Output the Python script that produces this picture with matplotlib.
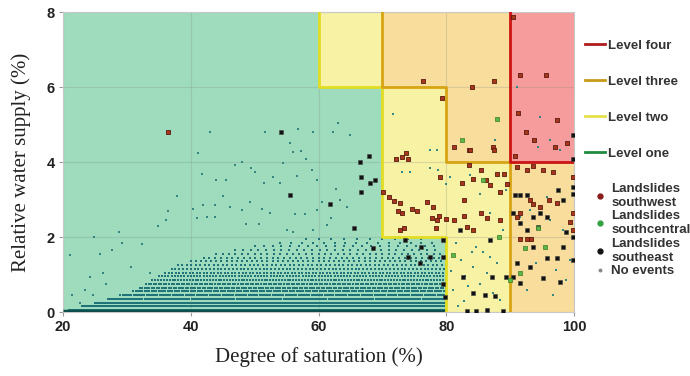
import numpy as np
import matplotlib
matplotlib.use("Agg")
import matplotlib.pyplot as plt
from matplotlib.lines import Line2D

# ---------------- data ----------------
x_ticks = [20, 40, 60, 80, 100]
y_ticks = [0, 2, 4, 6, 8]

# threshold boundaries (degree of saturation, relative water supply)
lvl2_x = [60, 60, 70, 70, 80, 80]
lvl2_y = [8, 6, 6, 2, 2, 0]
lvl3_x = [70, 70, 80, 80, 90, 90]
lvl3_y = [8, 6, 6, 4, 4, 0]
lvl4_x = [90, 90, 100]
lvl4_y = [8, 4, 4]
lvl1_x = [20, 80]
lvl1_y = [0.03, 0.03]

# landslides southwest
sw_x = [76.4, 84.0, 87.4, 79.4, 81.2, 83.6, 87.3, 91.6, 95.6, 91.2, 92.5, 93.7, 97.4, 97.0, 98.9, 90.7,
        72.2, 73.0, 73.7, 74.0, 70.1, 71.1, 71.8, 72.7, 72.4, 73.1, 73.3, 72.7, 74.6, 75.4, 76.9, 77.9,
        77.7, 78.5, 78.9, 78.4, 80.0, 81.2, 82.7, 83.3, 84.2, 82.4, 84.2, 85.5, 86.2, 86.9, 87.9, 88.4,
        89.0, 89.5, 83.6, 79.0, 82.7, 85.5, 86.3, 88.4, 91.0, 92.6, 93.6, 95.2, 96.7, 93.1, 93.6, 94.7,
        96.0, 97.3, 99.9, 99.8, 99.3, 99.9, 91.5, 92.6, 93.3, 91.0, 91.5, 90.5, 36.5, 83.7, 87.4]
sw_y = [6.17, 5.99, 6.17, 5.70, 4.41, 4.32, 4.41, 6.32, 6.32, 5.30, 4.81, 4.59, 5.12, 4.41, 4.50, 4.16,
        4.07, 4.14, 4.25, 4.07, 3.21, 3.08, 2.97, 2.92, 2.70, 2.63, 2.25, 2.19, 2.74, 2.70, 2.94, 2.79,
        2.52, 2.45, 2.56, 2.23, 2.47, 2.45, 2.56, 2.28, 2.20, 3.43, 3.56, 3.79, 3.52, 3.39, 3.68, 3.21,
        3.68, 3.41, 3.92, 3.61, 2.99, 2.63, 2.50, 2.45, 3.88, 3.79, 3.89, 3.79, 3.74, 2.99, 2.88, 2.81,
        2.99, 2.90, 3.61, 2.63, 2.41, 2.19, 1.96, 1.94, 1.94, 2.54, 2.63, 7.86, 4.81, 4.32, 4.32]

# landslides southcentral
sc_x = [87.9, 82.4, 85.7, 88.3, 94.3, 92.3, 95.4, 81.1, 91.5, 89.9]
sc_y = [5.14, 4.59, 3.52, 1.99, 2.23, 1.70, 1.74, 1.52, 1.03, 0.85]

# landslides southeast
se_x = [54.2, 55.6, 61.8, 66.5, 67.9, 66.6, 68.0, 68.9, 66.6, 65.5, 68.5,
        73.5, 74.0, 76.0, 75.9, 77.4, 79.5, 79.5, 79.8, 79.5, 82.6, 84.2, 86.0, 87.6, 83.2, 84.7,
        86.3, 88.9, 82.1, 86.8, 87.1, 89.4, 90.7, 91.5, 92.6, 90.5, 91.5, 92.6, 93.6, 94.4, 94.6,
        95.7, 97.5, 98.3, 98.8, 99.9, 99.9, 98.3, 95.7, 97.3, 93.6, 93.1, 91.0, 90.5, 91.5, 95.2,
        97.8, 99.9, 99.9, 99.9, 99.9]
se_y = [4.81, 3.12, 2.87, 4.01, 4.17, 3.61, 3.45, 3.52, 3.19, 2.23, 1.72,
        1.92, 1.48, 1.74, 1.30, 1.48, 1.92, 1.48, 0.41, 0.76, 0.94, 0.50, 0.45, 0.43, 0.03, 0.03,
        0.05, 0.03, 2.19, 1.92, 0.94, 0.94, 3.12, 3.12, 3.12, 2.63, 2.38, 2.19, 2.54, 2.28, 2.63,
        2.54, 3.25, 2.99, 2.14, 3.16, 2.01, 1.74, 1.43, 1.43, 1.74, 1.21, 1.30, 0.94, 0.78, 0.90,
        0.81, 1.39, 3.34, 4.72, 4.09]

# no events: scattered points
ne_x = [43.0, 51.6, 56.8, 59.2, 63.1, 62.3, 64.9, 41.2, 48.0, 46.9, 49.5, 50.0, 41.7, 44.0, 45.5, 51.4,
        52.9, 53.9, 54.5, 55.5, 56.0, 57.3, 58.1, 58.9, 59.7, 56.7, 37.8, 45.1, 40.4, 41.9, 43.8, 46.1,
        48.0, 49.2, 51.1, 52.4, 56.3, 57.9, 59.7, 60.5, 62.7, 63.3, 64.4, 34.8, 36.2, 36.5, 28.8, 24.9,
        21.1, 25.8, 27.6, 32.3, 29.2, 40.9, 42.5, 43.8, 48.7, 50.7, 55.0, 56.0, 59.2, 61.3, 62.0, 24.3,
        23.4, 21.4, 26.3, 30.7, 33.6, 26.7, 24.7, 22.7,
        71.6, 77.4, 78.5, 77.5, 73.0, 74.3, 78.7, 80.6, 83.7, 80.0,
        85.2, 86.8, 88.9, 84.7, 85.8, 86.8, 87.9, 84.2, 86.3, 85.3, 87.3, 88.4, 91.5, 93.1, 96.2, 94.1,
        97.2, 99.3, 92.6, 96.7, 98.8, 89.4, 91.0, 95.7, 98.3,
        91.0, 94.6, 96.2, 94.4, 87.6, 97.8, 81.5, 82.3, 83.0, 81.0, 82.8, 84.0, 80.7, 81.8, 83.4]
ne_y = [4.81, 4.81, 4.87, 4.81, 5.03, 4.81, 4.72, 4.23, 4.01, 3.92, 3.83, 3.74, 3.68, 3.52, 3.52, 3.43,
        3.59, 3.45, 3.98, 4.50, 4.28, 4.30, 4.07, 3.79, 3.52, 3.63, 3.09, 3.09, 2.76, 2.85, 2.85, 2.81,
        2.72, 2.94, 2.76, 2.63, 2.61, 2.61, 2.72, 2.94, 3.27, 2.99, 2.81, 2.29, 2.45, 2.70, 2.14, 1.99,
        1.52, 1.56, 1.65, 1.81, 1.83, 2.52, 2.54, 2.54, 2.36, 2.36, 2.20, 2.14, 2.19, 2.32, 2.50, 0.94,
        0.60, 0.45, 1.03, 1.21, 1.03, 0.76, 0.45, 0.23,
        5.28, 4.32, 4.32, 3.83, 3.74, 3.74, 3.79, 3.61, 3.65, 3.41,
        3.16, 2.63, 2.19, 1.74, 1.61, 1.48, 1.30, 1.21, 1.03, 0.76, 0.50, 0.32, 2.54, 2.72, 2.45, 1.30,
        1.12, 1.39, 0.59, 0.45, 0.85, 3.25, 3.12, 3.08, 2.19,
        6.01, 5.21, 4.59, 4.39, 4.59, 4.32, 1.85, 1.40, 0.95, 0.60, 0.30, 1.60, 1.10, 0.15, 0.70]

# no events: dense cloud, described row by row (row level, x extent, point spacing)
dense_y = [0.05, 0.15, 0.25, 0.35, 0.45, 0.55, 0.65, 0.75, 0.85, 0.95, 1.05, 1.15, 1.25, 1.35,
           1.45, 1.55, 1.65, 1.75, 1.85, 1.95]
dense_xmin = [21, 23, 25, 27, 29, 31, 32, 33, 34, 35, 36, 37, 38, 40, 42, 44, 47, 50, 54, 58]
dense_xmax = [80, 80, 80, 80, 80, 80, 80, 80, 80, 80, 80, 80, 80, 80, 79.5, 79.5, 79, 79, 78, 77]
dense_step = [0.3, 0.3, 0.3, 0.32, 0.34, 0.36, 0.38, 0.4, 0.45, 0.5, 0.55, 0.6, 0.7, 0.8,
              0.9, 1.0, 1.2, 1.4, 1.7, 2.0]

# ---------------- plot ----------------
fig = plt.figure(figsize=(6.9, 3.76), dpi=100)
ax = fig.add_axes([0.0913, 0.170, 0.7407, 0.798])
ax.set_xlim(20, 100)
ax.set_ylim(0, 8)

c_green = '#9edcbd'
c_yellow = '#f7f2a4'
c_orange = '#f9dd9d'
c_red = '#f79c9c'

gx = [20, 20] + lvl2_x
gy = [0, 8] + lvl2_y
ax.fill(gx, gy, color=c_green, zorder=0, lw=0)
yx = lvl2_x + lvl3_x[::-1]
yy = lvl2_y + lvl3_y[::-1]
ax.fill(yx, yy, color=c_yellow, zorder=0, lw=0)
ox = lvl3_x + [100, 100] + lvl4_x[::-1]
oy = lvl3_y + [0, 4] + lvl4_y[::-1]
ax.fill(ox, oy, color=c_orange, zorder=0, lw=0)
rx = lvl4_x + [100]
ry = lvl4_y + [8]
ax.fill(rx, ry, color=c_red, zorder=0, lw=0)

ax.set_xticks(x_ticks)
ax.set_yticks(y_ticks)
ax.grid(True, color='#7a8a80', alpha=0.25, lw=0.8, zorder=1)

# dense cloud
dxs, dys = [], []
for yv, x0, x1, st in zip(dense_y, dense_xmin, dense_xmax, dense_step):
    xs = np.arange(x0, x1, st)
    dxs.append(xs)
    dys.append(np.full(xs.shape, yv))
dxs = np.concatenate(dxs)
dys = np.concatenate(dys)
ax.scatter(dxs, dys, s=4.0, marker='s', color='#1f7379', lw=0, zorder=2)
ax.scatter(ne_x, ne_y, s=3.5, marker='s', color='#35867f', lw=0, zorder=2)

# boundary lines
ax.plot(lvl1_x, lvl1_y, color='#0e4f4c', lw=2.5, zorder=3, solid_capstyle='butt')
ax.plot(lvl2_x, lvl2_y, color='#e2dc22', lw=2, zorder=3)
ax.plot(lvl3_x, lvl3_y, color='#d6a414', lw=2, zorder=3)
ax.plot(lvl4_x, lvl4_y, color='#cc1414', lw=2, zorder=3)

# landslides
ax.scatter(se_x, se_y, s=11, marker='s', color='#111111', edgecolor='#444444', lw=0.4, zorder=4)
ax.scatter(sw_x, sw_y, s=10, marker='s', color='#a8361a', edgecolor='#5a1a10', lw=0.6, zorder=4)
ax.scatter(sc_x, sc_y, s=10, marker='s', color='#5cb844', edgecolor='#3a7a2a', lw=0.5, zorder=4)

for s in ax.spines.values():
    s.set_color('#c8c8c8')
    s.set_linewidth(0.8)
ax.tick_params(length=3, color='#999999', labelsize=10.5, pad=3)
for lab in ax.get_xticklabels() + ax.get_yticklabels():
    lab.set_fontweight('bold')
    lab.set_color('#222222')
    lab.set_family('Liberation Sans')

ax.set_xlabel('Degree of saturation (%)', family='Liberation Serif', fontsize=15, color='#222222', labelpad=9)
ax.set_ylabel('Relative water supply (%)', family='Liberation Serif', fontsize=15, color='#222222', labelpad=11)

prop = {'family': 'Liberation Sans', 'weight': 'bold', 'size': 9.5}
line_handles = [
    Line2D([], [], color='#b01c1c', lw=2),
    Line2D([], [], color='#c89a18', lw=2),
    Line2D([], [], color='#e6e04a', lw=2),
    Line2D([], [], color='#1e8a40', lw=2),
]
line_labels = ['Level four', 'Level three', 'Level two', 'Level one']
leg1 = fig.legend(line_handles, line_labels, loc='upper left', bbox_to_anchor=(0.848, 0.895),
                  frameon=False, handlelength=1.5, handletextpad=0.2, labelspacing=1.8,
                  borderpad=0, borderaxespad=0, prop=prop)
mark_handles = [
    Line2D([], [], color='#8a1a1a', marker='o', ms=3.5, lw=0),
    Line2D([], [], color='#33a040', marker='o', ms=3.5, lw=0),
    Line2D([], [], color='#111111', marker='o', ms=3.5, lw=0),
    Line2D([], [], color='#888888', marker='o', ms=1.8, lw=0),
]
mark_labels = ['Landslides\nsouthwest', 'Landslides\nsouthcentral', 'Landslides\nsoutheast', 'No events']
leg2 = fig.legend(mark_handles, mark_labels, loc='upper left', bbox_to_anchor=(0.862, 0.513),
                  frameon=False, handlelength=0.8, handletextpad=0.45, labelspacing=0.12,
                  borderpad=0, borderaxespad=0, prop=prop)
for lg in (leg1, leg2):
    for t in lg.get_texts():
        t.set_color('#333333')

fig.savefig('out.png', dpi=100)
